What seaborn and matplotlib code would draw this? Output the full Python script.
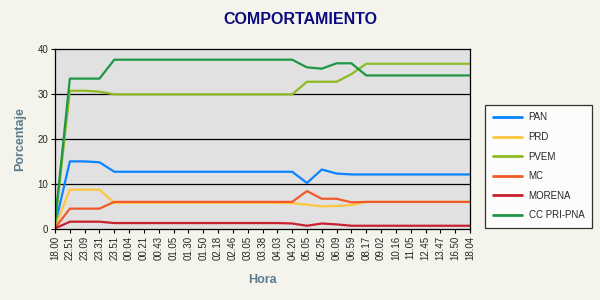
import matplotlib
matplotlib.use("Agg")
import matplotlib.pyplot as plt
import seaborn as sns
import pandas as pd

horas = ["18.00", "22.51", "23.09", "23.31", "23.51", "00.04", "00.21", "00.43",
         "01.05", "01.30", "01.50", "02.18", "02.46", "03.05", "03.38", "04.03",
         "04.20", "05.05", "05.25", "06.09", "06.59", "08.17", "09.02", "10.16",
         "11.05", "12.45", "13.47", "16.50", "18.04"]

pan = [0.8, 15.0, 15.0, 14.8, 12.7, 12.7, 12.7, 12.7, 12.7, 12.7, 12.7, 12.7, 12.7, 12.7, 12.7, 12.7,
       12.7, 10.2, 13.2, 12.3, 12.1, 12.1, 12.1, 12.1, 12.1, 12.1, 12.1, 12.1, 12.1]
prd = [0.4, 8.7, 8.7, 8.7, 5.8, 5.8, 5.8, 5.8, 5.8, 5.8, 5.8, 5.8, 5.8, 5.8, 5.8, 5.8,
       5.7, 5.4, 5.0, 5.1, 5.3, 6.0, 6.0, 6.0, 6.0, 6.0, 6.0, 6.0, 6.0]
pvem = [1.0, 30.7, 30.7, 30.5, 29.9, 29.9, 29.9, 29.9, 29.9, 29.9, 29.9, 29.9, 29.9, 29.9, 29.9, 29.9,
        29.9, 32.7, 32.7, 32.7, 34.4, 36.7, 36.7, 36.7, 36.7, 36.7, 36.7, 36.7, 36.7]
mc = [0.2, 4.5, 4.5, 4.5, 6.0, 6.0, 6.0, 6.0, 6.0, 6.0, 6.0, 6.0, 6.0, 6.0, 6.0, 6.0,
      6.0, 8.4, 6.7, 6.7, 5.9, 6.0, 6.0, 6.0, 6.0, 6.0, 6.0, 6.0, 6.0]
morena = [0.1, 1.6, 1.6, 1.6, 1.3, 1.3, 1.3, 1.3, 1.3, 1.3, 1.3, 1.3, 1.3, 1.3, 1.3, 1.3,
          1.2, 0.7, 1.2, 1.0, 0.7, 0.7, 0.7, 0.7, 0.7, 0.7, 0.7, 0.7, 0.7]
cc = [1.5, 33.4, 33.4, 33.4, 37.6, 37.6, 37.6, 37.6, 37.6, 37.6, 37.6, 37.6, 37.6, 37.6, 37.6, 37.6,
      37.6, 35.9, 35.6, 36.8, 36.8, 34.1, 34.1, 34.1, 34.1, 34.1, 34.1, 34.1, 34.1]

partidos = ["PAN", "PRD", "PVEM", "MC", "MORENA", "CC PRI-PNA"]
series = [pan, prd, pvem, mc, morena, cc]
colores = ["#0a84ff", "#ffc53d", "#8cbb24", "#f05a28", "#c8202e", "#1e9646"]

rows = []
for p, vals in zip(partidos, series):
    for i, v in enumerate(vals):
        rows.append({"pos": i, "valor": v, "partido": p})
df = pd.DataFrame(rows)

sns.set_theme(style="white")
plt.rcParams["font.family"] = ["Liberation Sans", "DejaVu Sans"]

bg = "#f4f4ec"
fig = plt.figure(figsize=(6, 3), dpi=100, facecolor=bg)
ax = fig.add_axes([0.0917, 0.237, 0.6916, 0.6])
ax.set_facecolor("#e1e1e1")

sns.lineplot(data=df, x="pos", y="valor", hue="partido", hue_order=partidos,
             palette=colores, linewidth=1.6, sort=False, estimator=None, ax=ax)

ax.set_xlim(0, len(horas) - 1)
ax.set_ylim(0, 40)
ax.set_yticks([0, 10, 20, 30, 40])
ax.set_xticks(range(len(horas)))
ax.set_xticklabels(horas, rotation=90, fontsize=7)
ax.tick_params(axis="y", labelsize=7, length=3, width=0.8, color="black", pad=2)
ax.tick_params(axis="x", length=3, width=0.8, color="black", pad=2, bottom=True)
ax.tick_params(axis="y", left=True)
for y in [10, 20, 30]:
    ax.axhline(y, color="black", linewidth=0.9, zorder=1)
for s in ax.spines.values():
    s.set_color("black")
    s.set_linewidth(0.9)

ax.set_xlabel("Hora", fontsize=9, fontweight="bold", color="#5d7b8c", labelpad=10)
ax.set_ylabel("Porcentaje", fontsize=9, fontweight="bold", color="#5d7b8c", labelpad=8)

fig.text(0.5, 0.935, "COMPORTAMIENTO", ha="center", va="center",
         fontsize=11.5, fontweight="bold", color="#0a0a80")

leg = ax.legend(loc="upper left", bbox_to_anchor=(1.036, 0.69), frameon=True,
                fontsize=7, handlelength=3.0, labelspacing=0.98,
                borderpad=0.8, handletextpad=0.7, fancybox=False,
                borderaxespad=0)
leg.get_frame().set_edgecolor("black")
leg.get_frame().set_linewidth(0.9)
leg.get_frame().set_facecolor("white")
for line in leg.get_lines():
    line.set_linewidth(2.0)

fig.savefig("out.png", dpi=100, facecolor=bg)
